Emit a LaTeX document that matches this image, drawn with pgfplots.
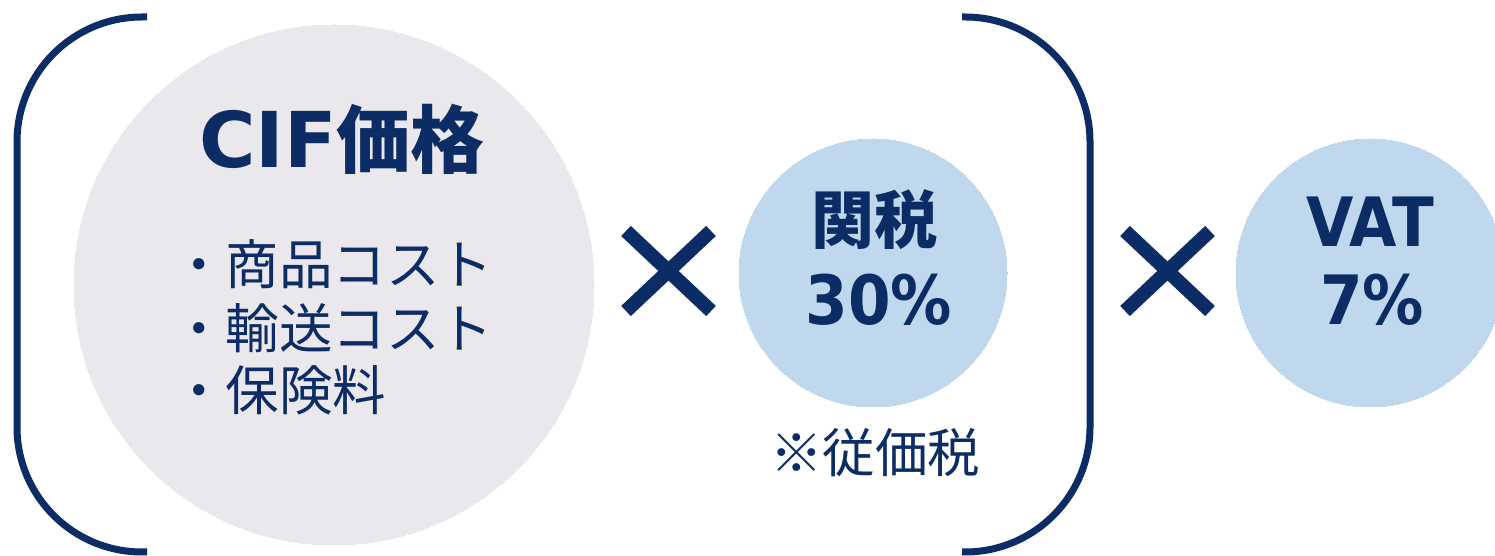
\documentclass[border=0pt]{standalone}
\usepackage{fontspec}
\usepackage{pgfplots}
\pgfplotsset{compat=1.18}
\newfontfamily\cjk{Noto Sans CJK JP}
\newfontfamily\latinA{DejaVu Sans}
\newfontfamily\latinB[FakeStretch=0.9]{DejaVu Sans}
\definecolor{navy}{HTML}{0B2C64}
\definecolor{grayc}{HTML}{EAE8EC}
\definecolor{bluec}{HTML}{BFD8EE}
\begin{document}
\begin{tikzpicture}
\begin{axis}[
  width=1495pt, height=556pt, scale only axis,
  xmin=0, xmax=1495, ymin=0, ymax=556,
  hide axis, clip=false,
]
% circles: (x, y) centres, mark size = radius
\addplot[grayc, only marks, mark=*, mark size=260pt, mark options={fill=grayc, draw=grayc, line width=0pt}] coordinates {(334,271)};
\addplot[bluec, only marks, mark=*, mark size=134pt, mark options={fill=bluec, draw=bluec, line width=0pt}] coordinates {(873,283) (1370,283)};
% brackets
\addplot[navy, line width=7pt, rounded corners=125pt] coordinates {(147,539) (17,539) (17,4) (147,4)};
\addplot[navy, line width=7pt, rounded corners=125pt] coordinates {(962,539) (1090,539) (1090,4) (962,4)};
% multiplication signs
\addplot[navy, line width=14pt] coordinates {(626,325) (711,245)};
\addplot[navy, line width=14pt] coordinates {(626,245) (711,325)};
\addplot[navy, line width=14pt] coordinates {(1125,325) (1210,245)};
\addplot[navy, line width=14pt] coordinates {(1125,245) (1210,325)};
% text anchor points
\coordinate (tCIF) at (axis cs:342,388);
\coordinate (tL1) at (axis cs:172,292);
\coordinate (tL2) at (axis cs:172,228);
\coordinate (tL3) at (axis cs:172,166);
\coordinate (tKan) at (axis cs:874,336);
\coordinate (t30) at (axis cs:879,231);
\coordinate (tNote) at (axis cs:875,103);
\coordinate (tVAT) at (axis cs:1370,309);
\coordinate (t7) at (axis cs:1372,231);
\end{axis}
\node[anchor=base, inner sep=0, text=navy] at (tCIF)
  {{\latinA\bfseries\fontsize{77}{80}\selectfont CIF}{\cjk\bfseries\fontsize{74}{80}\selectfont 価格}};
\node[anchor=west, inner sep=0, text=navy] at (tL1) {\cjk\fontsize{53.5}{60}\selectfont ・商品コスト};
\node[anchor=west, inner sep=0, text=navy] at (tL2) {\cjk\fontsize{53.5}{60}\selectfont ・輸送コスト};
\node[anchor=west, inner sep=0, text=navy] at (tL3) {\cjk\fontsize{53.5}{60}\selectfont ・保険料};
\node[anchor=center, inner sep=0, text=navy] at (tKan) {\cjk\bfseries\fontsize{63}{70}\selectfont 関税};
\node[anchor=base, inner sep=0, text=navy] at (t30) {\latinB\bfseries\fontsize{68}{70}\selectfont 30\%};
\node[anchor=center, inner sep=0, text=navy] at (tNote) {\cjk\fontsize{52.5}{60}\selectfont ※従価税};
\node[anchor=base, inner sep=0, text=navy] at (tVAT) {\latinB\bfseries\fontsize{68}{70}\selectfont VAT};
\node[anchor=base, inner sep=0, text=navy] at (t7) {\latinB\bfseries\fontsize{68}{70}\selectfont 7\%};
\pgfresetboundingbox
\path (current axis.south west) rectangle (current axis.north east);
\end{tikzpicture}
\end{document}
